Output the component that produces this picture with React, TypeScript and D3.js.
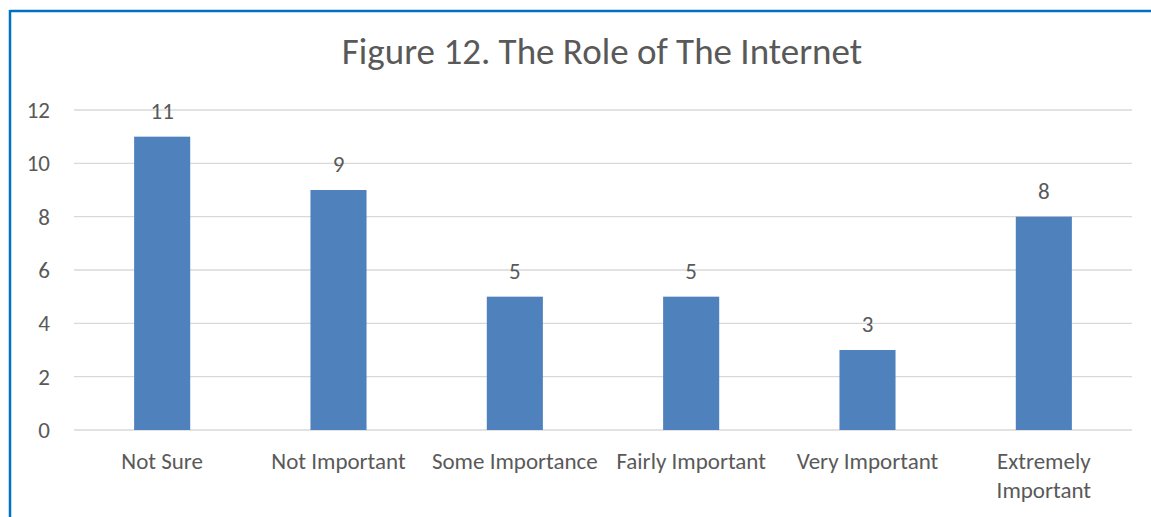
import React, { useEffect, useRef } from "react";
import { select, scaleLinear, scaleBand, axisLeft } from "d3";

const categories = [
  "Not Sure",
  "Not Important",
  "Some Importance",
  "Fairly Important",
  "Very Important",
  "Extremely Important",
];
const values = [11, 9, 5, 5, 3, 8];
const yTicks = [0, 2, 4, 6, 8, 10, 12];
const title = "Figure 12. The Role of The Internet";

const FONT = "Calibri, Carlito, 'Open Sans', sans-serif";
const TEXT = "#595959";
const LABEL_SIZE = 23;

function Chart() {
  const ref = useRef<SVGGElement>(null);

  const w = 1151;
  const h = 517;
  const margin = { top: 110, bottom: 87, left: 74, right: 19 };
  const width = w - margin.left - margin.right;
  const height = h - margin.top - margin.bottom;

  useEffect(() => {
    const g = select(ref.current);
    g.selectAll("*").remove();

    const x = scaleBand<string>().domain(categories).range([0, width]).padding(0);
    const y = scaleLinear().domain([0, 12]).range([height, 0]);
    const barW = x.bandwidth() * 0.318;
    const cx = (c: string) => (x(c) as number) + x.bandwidth() / 2;

    // gridlines
    g.selectAll(".grid")
      .data(yTicks)
      .enter()
      .append("line")
      .attr("x1", 0)
      .attr("x2", width)
      .attr("y1", d => y(d))
      .attr("y2", d => y(d))
      .attr("stroke", "#d9d9d9")
      .attr("stroke-width", 1.3);

    // y axis labels
    const ax = g
      .append("g")
      .call(axisLeft(y).tickValues(yTicks).tickSize(0).tickPadding(24));
    ax.select(".domain").remove();
    ax.selectAll("text")
      .attr("font-family", FONT)
      .attr("font-size", LABEL_SIZE)
      .attr("fill", TEXT);

    // bars
    g.selectAll(".bar")
      .data(values)
      .enter()
      .append("rect")
      .attr("x", (d, i) => cx(categories[i]) - barW / 2)
      .attr("y", d => y(d))
      .attr("width", barW)
      .attr("height", d => height - y(d))
      .attr("fill", "#4f81bd");

    // value labels
    g.selectAll(".val")
      .data(values)
      .enter()
      .append("text")
      .attr("x", (d, i) => cx(categories[i]))
      .attr("y", d => y(d) - 18)
      .attr("text-anchor", "middle")
      .attr("font-family", FONT)
      .attr("font-size", LABEL_SIZE)
      .attr("fill", TEXT)
      .text(d => d);

    // category labels (wrap the long one)
    categories.forEach(c => {
      const lines = c === "Extremely Important" ? ["Extremely", "Important"] : [c];
      const t = g
        .append("text")
        .attr("x", cx(c))
        .attr("y", height + 39)
        .attr("text-anchor", "middle")
        .attr("font-family", FONT)
        .attr("font-size", LABEL_SIZE)
        .attr("fill", TEXT);
      lines.forEach((l, j) => {
        t.append("tspan")
          .attr("x", cx(c))
          .attr("dy", j === 0 ? 0 : 29)
          .text(l);
      });
    });
  }, [width, height]);

  return (
    <div style={{ position: "absolute", left: 0, top: 0 }}>
      <svg width={w} height={h} style={{ display: "block" }}>
        <rect width={w} height={h} fill="#fff" />
        <line x1={10} x2={w} y1={11} y2={11} stroke="#0070c0" strokeWidth={2.5} />
        <line x1={10} x2={10} y1={10} y2={h} stroke="#0070c0" strokeWidth={2.5} />
        <text
          x={602}
          y={64}
          textAnchor="middle"
          fontFamily={FONT}
          fontSize={37}
          fill={TEXT}
        >
          {title}
        </text>
        <g ref={ref} transform={`translate(${margin.left},${margin.top})`}></g>
      </svg>
    </div>
  );
}

export default function App() {
  return <Chart />;
}
